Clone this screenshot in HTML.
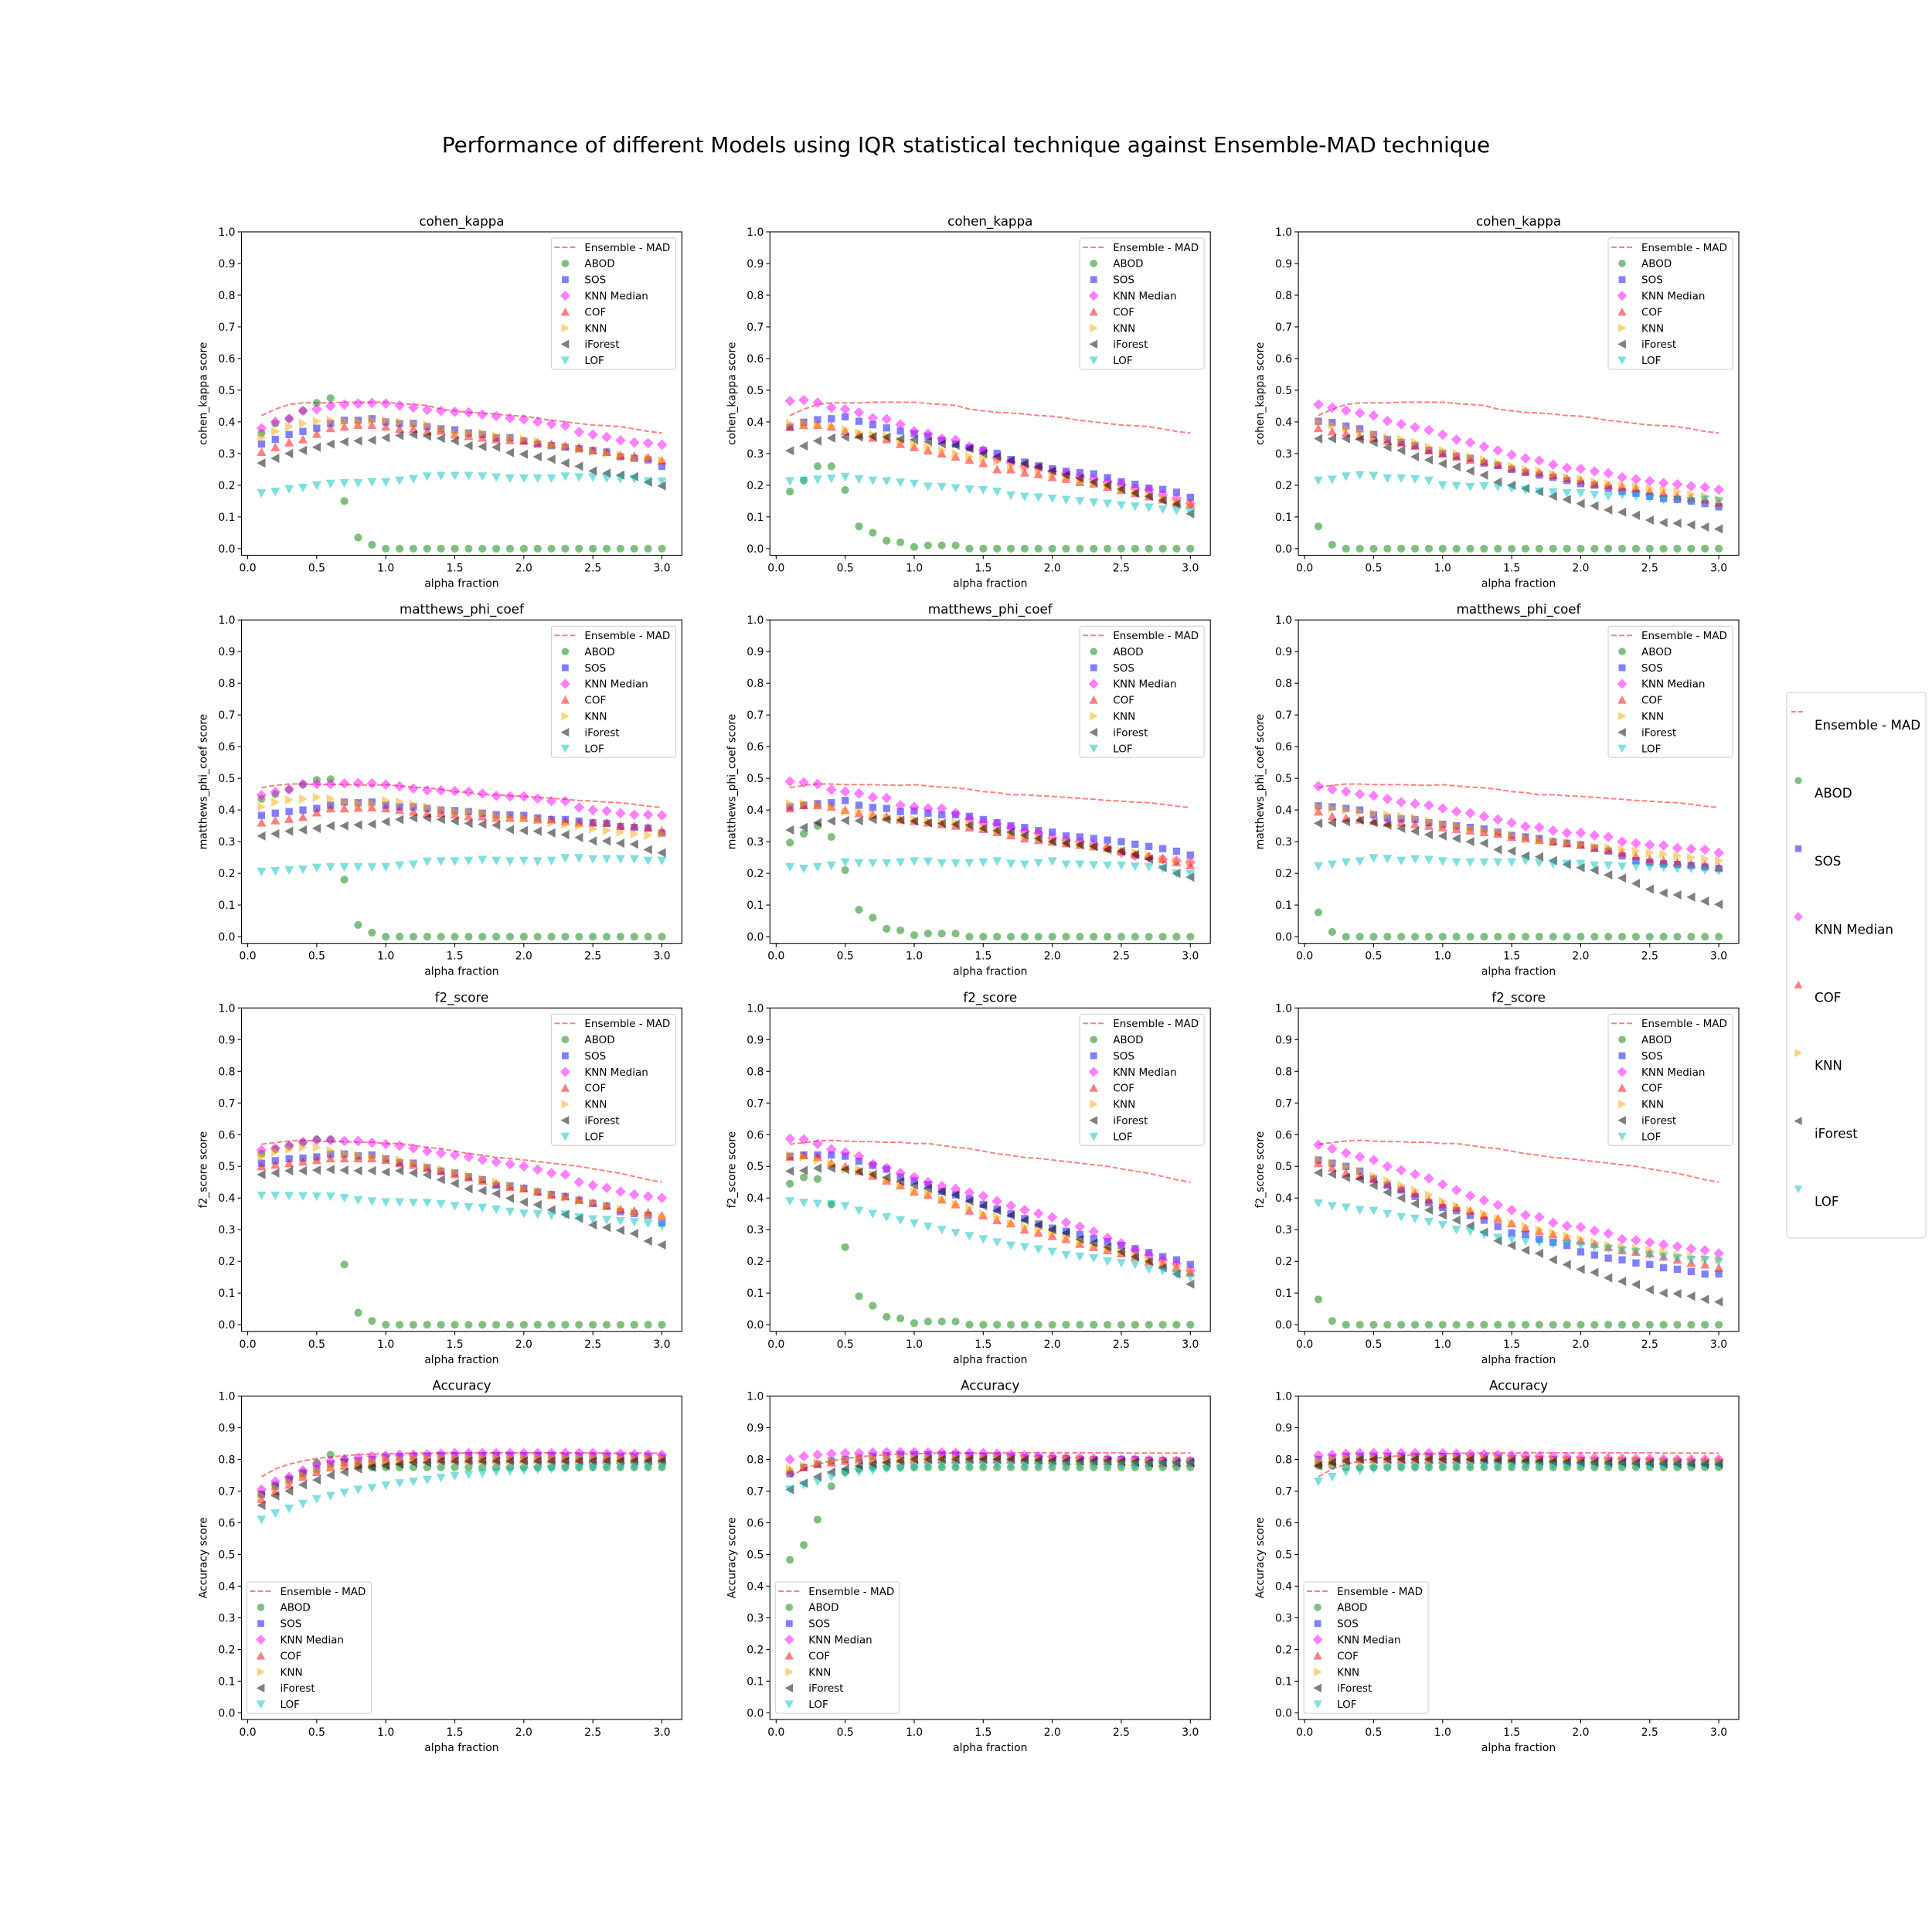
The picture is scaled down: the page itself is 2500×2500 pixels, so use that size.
<!DOCTYPE html>
<html><head><meta charset="utf-8"><title>Performance of different Models</title>
<style>
html,body{margin:0;padding:0;background:#fff;}
svg{display:block;font-family:"DejaVu Sans","Liberation Sans",sans-serif;}
</style></head>
<body>
<svg id="fig" width="2500" height="2500" viewBox="0 0 2500 2500" xmlns="http://www.w3.org/2000/svg">
<rect x="0" y="0" width="2500" height="2500" fill="#fff"/>
<text x="1250" y="197" text-anchor="middle" font-size="27.8">Performance of different Models using IQR statistical technique against Ensemble-MAD technique</text>
</svg>
<script>
const alphaValues = [0.1,0.2,0.3,0.4,0.5,0.6,0.7,0.8,0.9,1.0,1.1,1.2,1.3,1.4,1.5,1.6,1.7,1.8,1.9,2.0,2.1,2.2,2.3,2.4,2.5,2.6,2.7,2.8,2.9,3.0];
const yTickLabels = ["0.0","0.1","0.2","0.3","0.4","0.5","0.6","0.7","0.8","0.9","1.0"];
const xTickLabels = ["0.0","0.5","1.0","1.5","2.0","2.5","3.0"];
const metricNames = ["cohen_kappa","matthews_phi_coef","f2_score","Accuracy"];
const seriesNames = ["ABOD","SOS","KNN Median","COF","KNN","iForest","LOF"];

// Ensemble - MAD per metric
const ensCohen = [0.42,0.44,0.455,0.46,0.46,0.46,0.462,0.462,0.462,0.462,0.458,0.455,0.452,0.44,0.435,0.43,0.428,0.425,0.42,0.418,0.412,0.405,0.4,0.395,0.39,0.388,0.385,0.378,0.37,0.365];
const ensMatthews = [0.47,0.478,0.482,0.482,0.48,0.48,0.48,0.479,0.478,0.48,0.476,0.472,0.47,0.465,0.458,0.455,0.448,0.448,0.445,0.443,0.44,0.437,0.434,0.43,0.428,0.425,0.423,0.418,0.412,0.408];
const ensF2 = [0.57,0.575,0.58,0.582,0.58,0.578,0.578,0.576,0.576,0.572,0.572,0.566,0.56,0.556,0.548,0.54,0.535,0.528,0.525,0.52,0.515,0.51,0.505,0.5,0.492,0.485,0.478,0.468,0.458,0.45];
const ensAcc = [0.745,0.77,0.785,0.795,0.803,0.808,0.812,0.815,0.817,0.818,0.819,0.82,0.82,0.82,0.82,0.821,0.821,0.821,0.821,0.821,0.821,0.821,0.821,0.821,0.821,0.82,0.82,0.82,0.82,0.82];

const ck1Abod = [0.365,0.395,0.41,0.435,0.46,0.475,0.15,0.035,0.012,0,0,0,0,0,0,0,0,0,0,0,0,0,0,0,0,0,0,0,0,0];
const ck1Sos = [0.33,0.345,0.36,0.37,0.38,0.395,0.405,0.405,0.41,0.4,0.395,0.395,0.385,0.378,0.375,0.365,0.36,0.35,0.35,0.34,0.33,0.325,0.32,0.315,0.31,0.305,0.29,0.285,0.28,0.26];
const ck1Knnm = [0.38,0.4,0.41,0.435,0.44,0.45,0.455,0.458,0.46,0.458,0.452,0.445,0.438,0.435,0.432,0.43,0.423,0.418,0.412,0.408,0.4,0.393,0.388,0.368,0.36,0.352,0.342,0.335,0.333,0.328];
const ck1Cof = [0.305,0.32,0.335,0.345,0.362,0.38,0.385,0.39,0.39,0.385,0.378,0.378,0.37,0.372,0.36,0.355,0.35,0.345,0.342,0.34,0.335,0.33,0.325,0.32,0.31,0.305,0.295,0.292,0.288,0.278];
const ck1Knn = [0.35,0.37,0.385,0.395,0.402,0.405,0.402,0.4,0.405,0.405,0.4,0.395,0.39,0.375,0.365,0.365,0.365,0.355,0.348,0.345,0.338,0.325,0.322,0.313,0.305,0.3,0.295,0.285,0.285,0.278];
const ck1Ifor = [0.27,0.285,0.3,0.31,0.32,0.33,0.337,0.34,0.342,0.35,0.357,0.36,0.355,0.348,0.34,0.325,0.322,0.32,0.303,0.298,0.29,0.282,0.27,0.26,0.245,0.238,0.232,0.227,0.21,0.198];
const ck1Lof = [0.175,0.18,0.188,0.192,0.2,0.205,0.207,0.207,0.21,0.21,0.215,0.22,0.228,0.23,0.23,0.23,0.228,0.225,0.222,0.222,0.222,0.222,0.228,0.225,0.225,0.222,0.22,0.22,0.213,0.212];
const ck2Abod = [0.18,0.215,0.26,0.26,0.185,0.07,0.05,0.025,0.02,0.005,0.01,0.01,0.01,0,0,0,0,0,0,0,0,0,0,0,0,0,0,0,0,0];
const ck2Sos = [0.383,0.399,0.407,0.41,0.416,0.402,0.391,0.381,0.371,0.363,0.355,0.342,0.33,0.318,0.31,0.301,0.281,0.273,0.261,0.252,0.244,0.24,0.236,0.224,0.211,0.203,0.191,0.187,0.178,0.162];
const ck2Knnm = [0.466,0.469,0.461,0.445,0.44,0.43,0.412,0.409,0.392,0.371,0.363,0.347,0.343,0.322,0.31,0.285,0.273,0.26,0.256,0.244,0.236,0.227,0.219,0.211,0.203,0.191,0.186,0.17,0.158,0.142];
const ck2Cof = [0.385,0.39,0.39,0.385,0.37,0.36,0.35,0.345,0.33,0.32,0.31,0.3,0.29,0.28,0.27,0.25,0.25,0.24,0.235,0.225,0.22,0.21,0.205,0.195,0.185,0.175,0.165,0.155,0.145,0.14];
const ck2Knn = [0.395,0.395,0.39,0.385,0.375,0.365,0.36,0.355,0.34,0.33,0.32,0.31,0.3,0.29,0.285,0.275,0.26,0.255,0.245,0.235,0.225,0.215,0.205,0.2,0.19,0.18,0.17,0.16,0.15,0.14];
const ck2Ifor = [0.309,0.324,0.34,0.349,0.352,0.352,0.354,0.352,0.346,0.344,0.338,0.33,0.326,0.316,0.3,0.29,0.278,0.268,0.258,0.245,0.232,0.222,0.21,0.2,0.188,0.175,0.165,0.152,0.14,0.11];
const ck2Lof = [0.213,0.215,0.218,0.221,0.227,0.219,0.215,0.213,0.209,0.205,0.196,0.195,0.191,0.187,0.185,0.18,0.168,0.164,0.162,0.158,0.154,0.15,0.146,0.142,0.137,0.133,0.13,0.124,0.12,0.115];
const ck3Abod = [0.07,0.012,0,0,0,0,0,0,0,0,0,0,0,0,0,0,0,0,0,0,0,0,0,0,0,0,0,0,0,0];
const ck3Sos = [0.402,0.398,0.387,0.378,0.36,0.345,0.335,0.325,0.31,0.3,0.292,0.285,0.27,0.262,0.25,0.24,0.232,0.225,0.215,0.205,0.2,0.19,0.18,0.175,0.165,0.158,0.155,0.15,0.142,0.132];
const ck3Knnm = [0.455,0.445,0.436,0.428,0.42,0.403,0.393,0.383,0.374,0.36,0.344,0.335,0.322,0.31,0.296,0.285,0.278,0.265,0.255,0.252,0.244,0.238,0.225,0.219,0.213,0.207,0.203,0.197,0.194,0.186];
const ck3Cof = [0.38,0.37,0.365,0.355,0.35,0.34,0.335,0.325,0.31,0.3,0.29,0.28,0.275,0.265,0.255,0.245,0.24,0.232,0.222,0.215,0.205,0.2,0.195,0.19,0.18,0.175,0.165,0.16,0.155,0.145];
const ck3Knn = [0.4,0.39,0.38,0.37,0.36,0.35,0.345,0.335,0.32,0.31,0.3,0.29,0.28,0.27,0.26,0.25,0.245,0.235,0.225,0.22,0.21,0.205,0.2,0.195,0.19,0.185,0.18,0.17,0.165,0.155];
const ck3Ifor = [0.347,0.347,0.347,0.345,0.335,0.32,0.31,0.29,0.28,0.268,0.258,0.245,0.232,0.21,0.2,0.19,0.18,0.165,0.155,0.142,0.135,0.122,0.115,0.105,0.09,0.082,0.08,0.075,0.068,0.062];
const ck3Lof = [0.215,0.218,0.228,0.232,0.23,0.222,0.222,0.22,0.215,0.2,0.198,0.195,0.197,0.195,0.19,0.185,0.18,0.178,0.175,0.175,0.17,0.165,0.17,0.165,0.16,0.155,0.155,0.15,0.155,0.15];

const mp1Abod = [0.435,0.45,0.465,0.48,0.495,0.497,0.18,0.037,0.013,0,0,0,0,0,0,0,0,0,0,0,0,0,0,0,0,0,0,0,0,0];
const mp1Sos = [0.383,0.39,0.395,0.4,0.405,0.415,0.425,0.423,0.425,0.415,0.41,0.41,0.405,0.4,0.398,0.395,0.39,0.385,0.385,0.383,0.375,0.37,0.37,0.365,0.36,0.358,0.348,0.345,0.343,0.327];
const mp1Knnm = [0.447,0.457,0.465,0.482,0.482,0.482,0.484,0.485,0.484,0.48,0.475,0.468,0.462,0.462,0.46,0.458,0.452,0.445,0.443,0.443,0.436,0.428,0.428,0.408,0.4,0.397,0.39,0.385,0.385,0.383];
const mp1Cof = [0.36,0.367,0.372,0.378,0.392,0.405,0.405,0.407,0.408,0.405,0.4,0.395,0.39,0.39,0.385,0.38,0.38,0.375,0.375,0.375,0.37,0.37,0.365,0.36,0.36,0.36,0.35,0.35,0.345,0.335];
const mp1Knn = [0.41,0.425,0.432,0.435,0.44,0.435,0.425,0.42,0.42,0.43,0.425,0.418,0.41,0.4,0.395,0.393,0.39,0.38,0.375,0.375,0.37,0.36,0.355,0.35,0.34,0.335,0.33,0.325,0.32,0.325];
const mp1Ifor = [0.318,0.325,0.333,0.337,0.342,0.35,0.35,0.353,0.355,0.363,0.37,0.375,0.375,0.37,0.365,0.358,0.355,0.352,0.338,0.335,0.333,0.328,0.322,0.313,0.302,0.302,0.295,0.292,0.275,0.265];
const mp1Lof = [0.205,0.207,0.21,0.212,0.218,0.22,0.22,0.22,0.22,0.22,0.225,0.228,0.237,0.238,0.238,0.24,0.243,0.24,0.238,0.24,0.238,0.24,0.248,0.248,0.245,0.245,0.245,0.245,0.24,0.24];
const mp2Abod = [0.297,0.325,0.35,0.315,0.21,0.085,0.06,0.025,0.02,0.005,0.01,0.01,0.01,0,0,0,0,0,0,0,0,0,0,0,0,0,0,0,0,0];
const mp2Sos = [0.41,0.415,0.42,0.423,0.43,0.415,0.408,0.405,0.395,0.397,0.39,0.385,0.385,0.38,0.37,0.36,0.35,0.345,0.335,0.33,0.318,0.315,0.31,0.305,0.3,0.292,0.285,0.278,0.27,0.258];
const mp2Knnm = [0.49,0.487,0.482,0.464,0.458,0.452,0.44,0.438,0.415,0.41,0.405,0.405,0.39,0.372,0.36,0.356,0.345,0.333,0.327,0.312,0.305,0.3,0.29,0.28,0.265,0.255,0.25,0.245,0.24,0.235];
const mp2Cof = [0.405,0.415,0.415,0.41,0.4,0.39,0.385,0.38,0.37,0.365,0.36,0.355,0.35,0.345,0.34,0.33,0.32,0.31,0.305,0.3,0.295,0.29,0.285,0.28,0.27,0.26,0.255,0.245,0.235,0.225];
const mp2Knn = [0.42,0.42,0.415,0.41,0.395,0.395,0.385,0.375,0.37,0.37,0.365,0.36,0.36,0.355,0.345,0.335,0.325,0.32,0.315,0.305,0.3,0.29,0.285,0.28,0.27,0.265,0.255,0.245,0.24,0.235];
const mp2Ifor = [0.337,0.345,0.36,0.365,0.367,0.366,0.37,0.37,0.368,0.365,0.36,0.358,0.355,0.352,0.342,0.335,0.33,0.32,0.31,0.3,0.295,0.29,0.285,0.275,0.27,0.26,0.245,0.218,0.2,0.188];
const mp2Lof = [0.22,0.215,0.22,0.225,0.235,0.232,0.232,0.232,0.235,0.238,0.237,0.232,0.232,0.233,0.235,0.238,0.23,0.228,0.233,0.238,0.228,0.228,0.226,0.225,0.225,0.222,0.22,0.215,0.2,0.198];
const mp3Abod = [0.077,0.015,0,0,0,0,0,0,0,0,0,0,0,0,0,0,0,0,0,0,0,0,0,0,0,0,0,0,0,0];
const mp3Sos = [0.413,0.41,0.405,0.4,0.385,0.375,0.372,0.37,0.36,0.355,0.35,0.345,0.34,0.33,0.32,0.315,0.31,0.3,0.295,0.29,0.28,0.27,0.255,0.24,0.235,0.23,0.228,0.225,0.22,0.215];
const mp3Knnm = [0.475,0.465,0.458,0.45,0.445,0.435,0.425,0.42,0.415,0.405,0.395,0.39,0.38,0.37,0.36,0.348,0.345,0.335,0.328,0.328,0.32,0.315,0.3,0.295,0.29,0.288,0.28,0.277,0.275,0.265];
const mp3Cof = [0.395,0.38,0.375,0.37,0.365,0.36,0.36,0.355,0.35,0.345,0.34,0.335,0.33,0.325,0.315,0.31,0.305,0.3,0.295,0.29,0.28,0.275,0.265,0.255,0.245,0.24,0.235,0.23,0.228,0.22];
const mp3Knn = [0.41,0.405,0.4,0.395,0.39,0.385,0.38,0.375,0.365,0.355,0.35,0.34,0.335,0.33,0.32,0.31,0.305,0.3,0.295,0.29,0.285,0.28,0.275,0.27,0.265,0.26,0.255,0.25,0.245,0.24];
const mp3Ifor = [0.358,0.36,0.363,0.368,0.36,0.352,0.342,0.333,0.322,0.318,0.31,0.3,0.295,0.275,0.27,0.255,0.252,0.24,0.228,0.218,0.21,0.195,0.185,0.168,0.15,0.138,0.132,0.125,0.112,0.102];
const mp3Lof = [0.223,0.228,0.235,0.238,0.248,0.246,0.24,0.245,0.243,0.238,0.235,0.235,0.235,0.235,0.235,0.24,0.233,0.23,0.23,0.23,0.225,0.225,0.222,0.222,0.22,0.218,0.215,0.215,0.21,0.208];

const f21Abod = [0.54,0.555,0.565,0.575,0.585,0.585,0.19,0.038,0.012,0,0,0,0,0,0,0,0,0,0,0,0,0,0,0,0,0,0,0,0,0];
const f21Sos = [0.51,0.518,0.524,0.526,0.53,0.538,0.539,0.533,0.536,0.524,0.512,0.51,0.496,0.485,0.479,0.467,0.458,0.44,0.438,0.431,0.419,0.411,0.405,0.393,0.383,0.375,0.357,0.351,0.345,0.321];
const f21Knnm = [0.551,0.557,0.565,0.577,0.583,0.583,0.58,0.58,0.575,0.57,0.565,0.557,0.548,0.542,0.536,0.53,0.521,0.514,0.507,0.5,0.49,0.479,0.474,0.45,0.44,0.432,0.42,0.411,0.405,0.4];
const f21Cof = [0.5,0.505,0.51,0.515,0.52,0.525,0.525,0.525,0.525,0.52,0.51,0.505,0.495,0.485,0.475,0.465,0.455,0.445,0.435,0.43,0.42,0.41,0.405,0.395,0.385,0.375,0.365,0.36,0.355,0.345];
const f21Knn = [0.53,0.545,0.555,0.56,0.56,0.55,0.54,0.535,0.53,0.525,0.52,0.51,0.5,0.49,0.48,0.47,0.46,0.45,0.44,0.43,0.42,0.41,0.4,0.39,0.385,0.375,0.365,0.355,0.345,0.34];
const f21Ifor = [0.474,0.479,0.486,0.486,0.488,0.49,0.488,0.486,0.486,0.482,0.486,0.479,0.473,0.458,0.446,0.429,0.423,0.414,0.399,0.387,0.379,0.363,0.348,0.336,0.315,0.307,0.298,0.288,0.264,0.252];
const f21Lof = [0.408,0.408,0.407,0.406,0.405,0.405,0.4,0.393,0.39,0.387,0.387,0.385,0.385,0.381,0.375,0.371,0.369,0.364,0.357,0.351,0.349,0.345,0.348,0.339,0.333,0.331,0.327,0.324,0.319,0.312];
const f22Abod = [0.445,0.465,0.46,0.38,0.245,0.09,0.06,0.025,0.02,0.005,0.01,0.01,0.01,0,0,0,0,0,0,0,0,0,0,0,0,0,0,0,0,0];
const f22Sos = [0.532,0.536,0.536,0.536,0.532,0.516,0.503,0.491,0.466,0.454,0.442,0.421,0.41,0.397,0.38,0.365,0.35,0.335,0.318,0.305,0.295,0.285,0.272,0.262,0.25,0.24,0.228,0.215,0.205,0.19];
const f22Knnm = [0.587,0.585,0.571,0.554,0.544,0.532,0.507,0.495,0.479,0.466,0.45,0.438,0.429,0.417,0.406,0.39,0.376,0.362,0.351,0.339,0.323,0.31,0.294,0.274,0.257,0.236,0.22,0.204,0.192,0.171];
const f22Cof = [0.53,0.535,0.53,0.51,0.5,0.485,0.47,0.455,0.44,0.42,0.41,0.395,0.38,0.36,0.345,0.33,0.32,0.3,0.29,0.28,0.27,0.255,0.245,0.235,0.225,0.215,0.2,0.19,0.18,0.165];
const f22Knn = [0.535,0.53,0.52,0.51,0.49,0.49,0.475,0.455,0.44,0.42,0.415,0.395,0.38,0.37,0.35,0.34,0.32,0.31,0.3,0.29,0.275,0.26,0.25,0.24,0.23,0.22,0.205,0.195,0.18,0.17];
const f22Ifor = [0.485,0.487,0.494,0.494,0.49,0.483,0.475,0.465,0.452,0.44,0.43,0.42,0.41,0.39,0.375,0.36,0.345,0.33,0.315,0.3,0.29,0.27,0.258,0.245,0.23,0.215,0.2,0.18,0.16,0.128];
const f22Lof = [0.39,0.385,0.382,0.38,0.375,0.36,0.35,0.34,0.33,0.32,0.31,0.3,0.29,0.28,0.27,0.26,0.25,0.245,0.238,0.23,0.22,0.215,0.21,0.2,0.195,0.19,0.175,0.17,0.16,0.15];
const f23Abod = [0.08,0.012,0,0,0,0,0,0,0,0,0,0,0,0,0,0,0,0,0,0,0,0,0,0,0,0,0,0,0,0];
const f23Sos = [0.52,0.51,0.5,0.485,0.46,0.44,0.425,0.405,0.385,0.37,0.36,0.345,0.33,0.31,0.29,0.285,0.27,0.26,0.25,0.23,0.22,0.21,0.205,0.195,0.19,0.18,0.175,0.168,0.16,0.16];
const f23Knnm = [0.568,0.556,0.542,0.53,0.52,0.5,0.488,0.475,0.462,0.443,0.425,0.407,0.393,0.378,0.362,0.346,0.34,0.322,0.312,0.308,0.297,0.288,0.27,0.267,0.26,0.253,0.247,0.24,0.235,0.225];
const f23Cof = [0.51,0.495,0.48,0.47,0.46,0.445,0.43,0.415,0.395,0.38,0.37,0.36,0.345,0.335,0.32,0.305,0.295,0.285,0.275,0.265,0.255,0.245,0.235,0.23,0.225,0.215,0.205,0.195,0.19,0.18];
const f23Knn = [0.52,0.51,0.5,0.485,0.47,0.455,0.44,0.425,0.41,0.39,0.375,0.36,0.35,0.335,0.32,0.31,0.3,0.29,0.28,0.27,0.26,0.25,0.245,0.24,0.235,0.23,0.22,0.215,0.21,0.205];
const f23Ifor = [0.48,0.475,0.465,0.46,0.44,0.418,0.4,0.382,0.362,0.346,0.33,0.312,0.292,0.265,0.25,0.235,0.225,0.205,0.19,0.175,0.165,0.148,0.137,0.127,0.11,0.1,0.098,0.09,0.08,0.072];
const f23Lof = [0.383,0.375,0.37,0.362,0.36,0.35,0.34,0.335,0.325,0.315,0.3,0.295,0.285,0.275,0.27,0.265,0.26,0.255,0.255,0.25,0.245,0.24,0.235,0.23,0.22,0.215,0.21,0.205,0.205,0.2];

const ac1Abod = [0.69,0.72,0.74,0.76,0.79,0.815,0.8,0.78,0.775,0.775,0.775,0.775,0.775,0.775,0.775,0.775,0.775,0.775,0.775,0.775,0.775,0.775,0.775,0.775,0.775,0.775,0.775,0.775,0.775,0.775];
const ac1Sos = [0.69,0.715,0.735,0.755,0.77,0.785,0.79,0.795,0.8,0.805,0.808,0.81,0.81,0.812,0.812,0.812,0.812,0.812,0.812,0.812,0.812,0.812,0.81,0.81,0.81,0.81,0.808,0.808,0.808,0.806];
const ac1Knnm = [0.705,0.73,0.745,0.765,0.785,0.795,0.8,0.805,0.81,0.812,0.815,0.815,0.816,0.818,0.82,0.82,0.82,0.82,0.82,0.82,0.82,0.82,0.82,0.82,0.82,0.818,0.818,0.817,0.816,0.815];
const ac1Cof = [0.675,0.7,0.72,0.745,0.76,0.775,0.78,0.785,0.79,0.795,0.795,0.8,0.8,0.8,0.8,0.8,0.8,0.8,0.8,0.8,0.8,0.8,0.8,0.8,0.8,0.8,0.8,0.8,0.8,0.8];
const ac1Knn = [0.685,0.71,0.73,0.75,0.765,0.775,0.785,0.79,0.795,0.8,0.8,0.805,0.805,0.805,0.805,0.805,0.805,0.805,0.805,0.805,0.805,0.805,0.805,0.805,0.805,0.805,0.803,0.803,0.803,0.803];
const ac1Ifor = [0.655,0.685,0.7,0.72,0.735,0.75,0.76,0.77,0.775,0.78,0.785,0.79,0.79,0.795,0.795,0.795,0.795,0.795,0.795,0.795,0.795,0.795,0.795,0.795,0.795,0.795,0.795,0.795,0.795,0.795];
const ac1Lof = [0.61,0.63,0.645,0.66,0.675,0.685,0.695,0.705,0.71,0.718,0.725,0.73,0.735,0.742,0.748,0.752,0.756,0.76,0.763,0.765,0.768,0.77,0.772,0.774,0.775,0.776,0.777,0.778,0.778,0.778];
const ac2Abod = [0.483,0.53,0.61,0.715,0.76,0.77,0.775,0.775,0.775,0.775,0.775,0.775,0.775,0.775,0.775,0.775,0.775,0.775,0.775,0.775,0.775,0.775,0.775,0.775,0.775,0.775,0.775,0.775,0.775,0.775];
const ac2Sos = [0.755,0.775,0.785,0.795,0.8,0.805,0.81,0.812,0.815,0.815,0.815,0.815,0.815,0.812,0.81,0.81,0.808,0.805,0.805,0.803,0.803,0.8,0.8,0.8,0.8,0.8,0.798,0.797,0.796,0.795];
const ac2Knnm = [0.8,0.81,0.815,0.818,0.82,0.82,0.822,0.823,0.823,0.823,0.822,0.822,0.821,0.82,0.82,0.818,0.815,0.812,0.81,0.808,0.805,0.805,0.803,0.802,0.8,0.8,0.798,0.797,0.796,0.795];
const ac2Cof = [0.765,0.775,0.785,0.79,0.795,0.8,0.8,0.8,0.8,0.8,0.8,0.8,0.8,0.8,0.8,0.8,0.8,0.8,0.798,0.797,0.796,0.795,0.795,0.795,0.793,0.792,0.79,0.79,0.79,0.79];
const ac2Knn = [0.77,0.78,0.79,0.795,0.8,0.805,0.805,0.805,0.805,0.805,0.805,0.805,0.805,0.805,0.805,0.805,0.803,0.8,0.8,0.8,0.8,0.8,0.798,0.797,0.796,0.795,0.795,0.795,0.795,0.795];
const ac2Ifor = [0.705,0.725,0.745,0.76,0.77,0.78,0.785,0.79,0.795,0.8,0.8,0.8,0.8,0.8,0.8,0.8,0.8,0.798,0.797,0.796,0.795,0.795,0.795,0.795,0.793,0.792,0.79,0.79,0.79,0.79];
const ac2Lof = [0.705,0.72,0.73,0.745,0.755,0.76,0.765,0.77,0.772,0.775,0.778,0.78,0.78,0.782,0.782,0.782,0.782,0.782,0.782,0.782,0.782,0.782,0.782,0.782,0.782,0.782,0.782,0.782,0.782,0.782];
const ac3Abod = [0.78,0.78,0.775,0.775,0.775,0.775,0.775,0.775,0.775,0.775,0.775,0.775,0.775,0.775,0.775,0.775,0.775,0.775,0.775,0.775,0.775,0.775,0.775,0.775,0.775,0.775,0.775,0.775,0.775,0.775];
const ac3Sos = [0.8,0.805,0.81,0.81,0.81,0.81,0.81,0.81,0.81,0.81,0.808,0.806,0.805,0.804,0.803,0.8,0.8,0.8,0.798,0.797,0.796,0.795,0.795,0.794,0.793,0.792,0.792,0.79,0.79,0.79];
const ac3Knnm = [0.813,0.815,0.818,0.82,0.82,0.82,0.82,0.82,0.82,0.82,0.818,0.817,0.816,0.815,0.813,0.812,0.81,0.81,0.808,0.806,0.805,0.804,0.803,0.802,0.802,0.801,0.8,0.8,0.8,0.8];
const ac3Cof = [0.79,0.795,0.8,0.8,0.8,0.8,0.8,0.8,0.8,0.8,0.8,0.8,0.8,0.8,0.8,0.8,0.798,0.797,0.797,0.796,0.795,0.795,0.795,0.795,0.795,0.795,0.795,0.795,0.795,0.795];
const ac3Knn = [0.795,0.8,0.805,0.805,0.805,0.805,0.805,0.805,0.805,0.805,0.805,0.805,0.803,0.803,0.802,0.8,0.8,0.8,0.8,0.798,0.797,0.797,0.797,0.796,0.796,0.796,0.795,0.795,0.795,0.795];
const ac3Ifor = [0.78,0.79,0.795,0.8,0.8,0.8,0.8,0.8,0.8,0.8,0.8,0.8,0.798,0.797,0.796,0.795,0.794,0.793,0.792,0.79,0.79,0.79,0.79,0.788,0.788,0.787,0.786,0.786,0.785,0.785];
const ac3Lof = [0.73,0.745,0.76,0.765,0.77,0.772,0.775,0.775,0.776,0.777,0.778,0.778,0.779,0.78,0.78,0.78,0.78,0.78,0.78,0.78,0.78,0.78,0.78,0.78,0.78,0.78,0.78,0.78,0.78,0.78];

const NS = "http://www.w3.org/2000/svg";
const svg = document.getElementById('fig');
function mk(tag, attrs, parent){
  const e = document.createElementNS(NS, tag);
  for (const k in attrs) e.setAttribute(k, attrs[k]);
  (parent||svg).appendChild(e);
  return e;
}
const STY = [
  {shape:'o', fill:'#008000'},
  {shape:'s', fill:'#0000ff'},
  {shape:'D', fill:'#ff00ff'},
  {shape:'^', fill:'#ff0000'},
  {shape:'>', fill:'#ffa500'},
  {shape:'<', fill:'#000000'},
  {shape:'v', fill:'#00bfbf'}
];
function marker(shape, cx, cy, fill, parent, scale){
  const s = (scale||1)*1.08;
  let e;
  if (shape==='o') e = mk('circle',{cx:cx,cy:cy,r:4.7*s},parent);
  else if (shape==='s') e = mk('rect',{x:cx-4.3*s,y:cy-4.3*s,width:8.6*s,height:8.6*s},parent);
  else {
    let p;
    const r = 5.6*s;
    if (shape==='D') p=[[cx,cy-6.3*s],[cx+6.3*s,cy],[cx,cy+6.3*s],[cx-6.3*s,cy]];
    else if (shape==='^') p=[[cx,cy-r],[cx+r,cy+r*0.85],[cx-r,cy+r*0.85]];
    else if (shape==='v') p=[[cx,cy+r],[cx+r,cy-r*0.85],[cx-r,cy-r*0.85]];
    else if (shape==='>') p=[[cx+r,cy],[cx-r*0.85,cy-r],[cx-r*0.85,cy+r]];
    else p=[[cx-r,cy],[cx+r*0.85,cy-r],[cx+r*0.85,cy+r]];
    e = mk('polygon',{points:p.map(q=>q.join(',')).join(' ')},parent);
  }
  e.setAttribute('fill', fill);
  e.setAttribute('fill-opacity', '0.5');
  return e;
}

const ensByRow = [ensCohen, ensMatthews, ensF2, ensAcc];
const plotData = [
  [[ck1Abod,ck1Sos,ck1Knnm,ck1Cof,ck1Knn,ck1Ifor,ck1Lof],[ck2Abod,ck2Sos,ck2Knnm,ck2Cof,ck2Knn,ck2Ifor,ck2Lof],[ck3Abod,ck3Sos,ck3Knnm,ck3Cof,ck3Knn,ck3Ifor,ck3Lof]],
  [[mp1Abod,mp1Sos,mp1Knnm,mp1Cof,mp1Knn,mp1Ifor,mp1Lof],[mp2Abod,mp2Sos,mp2Knnm,mp2Cof,mp2Knn,mp2Ifor,mp2Lof],[mp3Abod,mp3Sos,mp3Knnm,mp3Cof,mp3Knn,mp3Ifor,mp3Lof]],
  [[f21Abod,f21Sos,f21Knnm,f21Cof,f21Knn,f21Ifor,f21Lof],[f22Abod,f22Sos,f22Knnm,f22Cof,f22Knn,f22Ifor,f22Lof],[f23Abod,f23Sos,f23Knnm,f23Cof,f23Knn,f23Ifor,f23Lof]],
  [[ac1Abod,ac1Sos,ac1Knnm,ac1Cof,ac1Knn,ac1Ifor,ac1Lof],[ac2Abod,ac2Sos,ac2Knnm,ac2Cof,ac2Knn,ac2Ifor,ac2Lof],[ac3Abod,ac3Sos,ac3Knnm,ac3Cof,ac3Knn,ac3Ifor,ac3Lof]]
];

const AW = 569.9, AH = 418.5;
const colL = [312.5, 996.3, 1680.1];
const rowT = [300, 802.2, 1304.3, 1806.5];
const XMIN = -0.045, XMAX = 3.145, YMIN = -0.021, YMAX = 1.0;

function drawLegend(g, lx, ly){
  const box = mk('rect',{x:lx,y:ly,width:161,height:170,rx:3,fill:'#fff','fill-opacity':0.8,stroke:'#cccccc','stroke-width':1},g);
  
  
  const names = ['Ensemble - MAD'].concat(seriesNames);
  for (let i=0;i<names.length;i++){
    const ey = ly + 12 + i*20.9;
    const eg = mk('g',{},g);
    
    
    if (i===0) mk('line',{x1:lx+4,y1:ey,x2:lx+32,y2:ey,stroke:'#ff0000','stroke-opacity':0.5,'stroke-width':2,'stroke-dasharray':'7,3'},eg);
    else marker(STY[i-1].shape, lx+18, ey, STY[i-1].fill, eg, 0.95);
    const t = mk('text',{x:lx+43,y:ey+4.8,'font-size':13.5,fill:'#000'},eg);
    t.textContent = names[i];
  }
}

for (let r=0;r<4;r++){
  for (let c=0;c<3;c++){
    const L = colL[c], T = rowT[r];
    const g = mk('g',{});
    
    
    const xs = v => L + (v - XMIN)/(XMAX - XMIN)*AW;
    const ys = v => T + AH - (v - YMIN)/(YMAX - YMIN)*AH;
    for (let i=0;i<yTickLabels.length;i++){
      const v = parseFloat(yTickLabels[i]);
      const y = ys(v);
      mk('line',{x1:L-4.9,y1:y,x2:L,y2:y,stroke:'#000','stroke-width':1.1},g);
      const t = mk('text',{x:L-8,y:y+5,'text-anchor':'end','font-size':13.9},g);
      
      
      t.textContent = yTickLabels[i];
    }
    for (let i=0;i<xTickLabels.length;i++){
      const v = parseFloat(xTickLabels[i]);
      const x = xs(v);
      mk('line',{x1:x,y1:T+AH,x2:x,y2:T+AH+4.9,stroke:'#000','stroke-width':1.1},g);
      const t = mk('text',{x:x,y:T+AH+21,'text-anchor':'middle','font-size':13.9},g);
      
      
      t.textContent = xTickLabels[i];
    }
    const title = mk('text',{x:L+AW/2,y:T-8,'text-anchor':'middle','font-size':16.7},g);
    
    
    title.textContent = metricNames[r];
    const xl = mk('text',{x:L+AW/2,y:T+AH+41,'text-anchor':'middle','font-size':13.9},g);
    
    
    xl.textContent = 'alpha fraction';
    const ylx = L-45, yly = T+AH/2;
    const yl = mk('text',{x:ylx,y:yly,'text-anchor':'middle','font-size':13.9,transform:'rotate(-90 '+ylx+' '+yly+')'},g);
    
    
    yl.textContent = metricNames[r]+' score';
    const ens = ensByRow[r];
    const pts = alphaValues.map((a,i)=> xs(a).toFixed(1)+','+ys(ens[i]).toFixed(1)).join(' ');
    const pl = mk('polyline',{points:pts,fill:'none',stroke:'#ff0000','stroke-opacity':0.5,'stroke-width':2,'stroke-dasharray':'7,3'},g);
    
    
    const sers = plotData[r][c];
    for (let s=0;s<sers.length;s++){
      const sg = mk('g',{},g);
      
      
      const vals = sers[s];
      const n = Math.min(vals.length, alphaValues.length);
      for (let i=0;i<n;i++){
        const m = marker(STY[s].shape, xs(alphaValues[i]), ys(vals[i]), STY[s].fill, sg);
        
        
      }
    }
    const fr = mk('rect',{x:L,y:T,width:AW,height:AH,fill:'none',stroke:'#000','stroke-width':1.1},g);
    
    
    const lg = mk('g',{},g);
    
    
    if (r<3) drawLegend(lg, L+AW-169, T+8);
    else drawLegend(lg, L+7, T+AH-178);
  }
}

const fl = mk('g',{});


const fbox = mk('rect',{x:2312,y:896,width:180,height:706,rx:4,fill:'#fff',stroke:'#cccccc','stroke-width':1},fl);


const fnames = ['Ensemble - MAD'].concat(seriesNames);
for (let i=0;i<fnames.length;i++){
  const ty = 938 + i*88.1;
  const eg = mk('g',{},fl);
  
  
  if (i===0) mk('line',{x1:2318,y1:ty-17,x2:2336,y2:ty-17,stroke:'#ff0000','stroke-opacity':0.5,'stroke-width':2,'stroke-dasharray':'6,3'},eg);
  else marker(STY[i-1].shape, 2327, ty-16, STY[i-1].fill, eg, 0.9);
  const t = mk('text',{x:2348,y:ty+6,'font-size':16.7},eg);
  t.textContent = fnames[i];
}
</script>
</body></html>
